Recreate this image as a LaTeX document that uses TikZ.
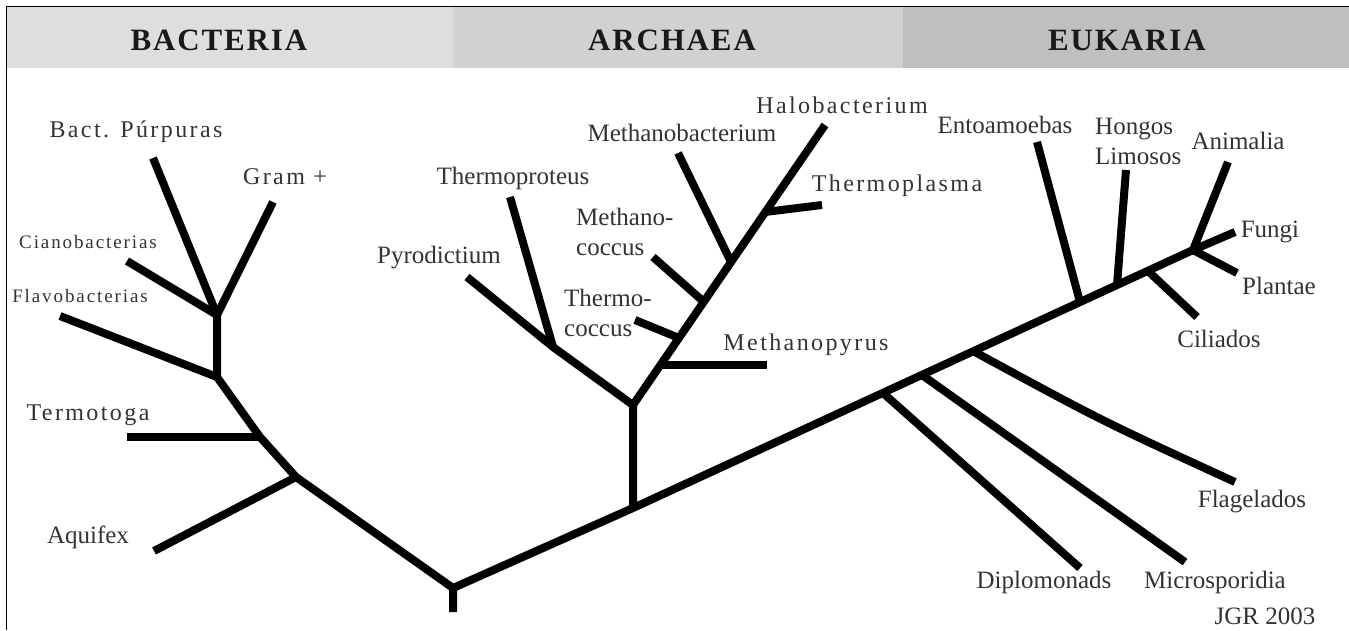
\documentclass[tikz,border=0pt]{standalone}
\usepackage{fontspec}
\setmainfont{Liberation Serif}
\newfontfamily\spacedserif{Liberation Serif}[LetterSpace=10]
\newfontfamily\headserif{Liberation Serif}[LetterSpace=6]

\begin{document}
\begin{tikzpicture}[
    x=1pt, y=-1pt,
    % Estilos de las bandas y ramas
    bactband/.style={fill=black!13},
    archband/.style={fill=black!18},
    eukband/.style={fill=black!25},
    branch/.style={line width=8pt, line cap=butt, draw=black},
    % Estilos para los textos
    domainlabel/.style={font=\headserif\bfseries\fontsize{31}{33}\selectfont, text=black!90},
    taxon/.style={font=\fontsize{25}{30}\selectfont, text=black!80, inner sep=0pt},
    spacedtaxon/.style={taxon, font=\spacedserif\fontsize{24}{30}\selectfont},
    smalltaxon/.style={taxon, font=\spacedserif\fontsize{19}{22}\selectfont}
]
\useasboundingbox (0,0) rectangle (1349,630);

% --- CABECERA ---
\fill[bactband] (6.5,6.5) rectangle (453,68);
\fill[archband] (453,6.5) rectangle (903,68);
\fill[eukband] (903,6.5) rectangle (1349,68);
\draw[line width=1.5pt] (6.5,630) -- (6.5,6.5) -- (1349,6.5);
\node[domainlabel] (bact) at (219,40) {BACTERIA};
\node[domainlabel] (arch) at (672,40) {ARCHAEA};
\node[domainlabel] (euk) at (1127,40) {EUKARIA};

% --- RAIZ ---
\coordinate (stub) at (453,612);
\coordinate (root) at (453,588);

% --- BACTERIA ---
\coordinate (aquiJ) at (296,477);
\coordinate (aquiE) at (154,551);
\coordinate (termJ) at (260,437);
\coordinate (termE) at (127,437);
\coordinate (flavJ) at (217,377);
\coordinate (flavE) at (60,316);
\coordinate (cianJ) at (217,315);
\coordinate (cianE) at (127,261);
\coordinate (purpE) at (153,158);
\coordinate (gramE) at (273,202);

\draw[branch] (stub) -- (root) -- (aquiJ) -- (termJ) -- (flavJ) -- (cianJ);
\draw[branch] (aquiJ) -- (aquiE);
\draw[branch] (termJ) -- (termE);
\draw[branch] (flavJ) -- (flavE);
\draw[branch] (cianJ) -- (cianE);
\draw[branch] (cianJ) -- (purpE);
\draw[branch] (cianJ) -- (gramE);

\node[spacedtaxon] (purp) at (136,132) {Bact. Púrpuras};
\node[spacedtaxon] (gram) at (285,177) {Gram +};
\node[smalltaxon] (cian) at (88,242) {Cianobacterias};
\node[smalltaxon] (flav) at (80,296) {Flavobacterias};
\node[spacedtaxon] (term) at (88,415) {Termotoga};
\node[taxon] (aqui) at (88,537) {Aquifex};

% --- ARCHAEA ---
\coordinate (archJ) at (633,508);
\coordinate (archK) at (633,405);
\coordinate (thprJ) at (553,347);
\coordinate (thprE) at (510,197);
\coordinate (pyroE) at (467,277);
\coordinate (haloE) at (825,125);
\coordinate (mpyrJ) at (661,365);
\coordinate (mpyrE) at (767,365);
\coordinate (tcocJ) at (679,338);
\coordinate (tcocE) at (635,320);
\coordinate (mcocJ) at (704,302);
\coordinate (mcocE) at (653,257);
\coordinate (mbacJ) at (731,262);
\coordinate (mbacE) at (678,153);
\coordinate (thplJ) at (765,212);
\coordinate (thplE) at (822,205);

\draw[branch] (archJ) -- (archK) -- (thprJ) -- (pyroE);
\draw[branch] (thprJ) -- (thprE);
\draw[branch] (archK) -- (haloE);
\draw[branch] (mpyrJ) -- (mpyrE);
\draw[branch] (tcocJ) -- (tcocE);
\draw[branch] (mcocJ) -- (mcocE);
\draw[branch] (mbacJ) -- (mbacE);
\draw[branch] (thplJ) -- (thplE);

\node[taxon] (pyro) at (439,258) {Pyrodictium};
\node[taxon] (thpr) at (513,178) {Thermoproteus};
\node[taxon] (mbac) at (682,133) {Methanobacterium};
\node[spacedtaxon] (halo) at (842,105) {Halobacterium};
\node[spacedtaxon] (thpl) at (897,186) {Thermoplasma};
\node[taxon, align=left, anchor=west] (mcoc) at (576,232) {Methano-\\coccus};
\node[taxon, align=left, anchor=west] (tcoc) at (564,313) {Thermo-\\coccus};
\node[spacedtaxon] (mpyr) at (806,345) {Methanopyrus};

% --- EUKARIA ---
\coordinate (diplJ) at (883,393);
\coordinate (diplE) at (1080,568);
\coordinate (micrJ) at (922,375);
\coordinate (micrE) at (1185,562);
\coordinate (flagJ) at (973,351);
\coordinate (flagE) at (1235,482);
\coordinate (entoJ) at (1080,302);
\coordinate (entoE) at (1037,142);
\coordinate (hongJ) at (1117,285);
\coordinate (hongE) at (1126,170);
\coordinate (ciliJ) at (1148,271);
\coordinate (ciliE) at (1197,317);
\coordinate (topJ) at (1193,250);
\coordinate (animE) at (1228,162);
\coordinate (fungE) at (1235,232);
\coordinate (planE) at (1237,273);

\draw[branch] (root) -- (archJ) -- (topJ) -- (fungE);
\draw[branch] (diplJ) -- (diplE);
\draw[branch] (micrJ) -- (micrE);
\draw[branch] (flagJ) .. controls (1102,421) .. (flagE);
\draw[branch] (entoJ) -- (entoE);
\draw[branch] (hongJ) -- (hongE);
\draw[branch] (ciliJ) -- (ciliE);
\draw[branch] (topJ) -- (animE);
\draw[branch] (topJ) -- (planE);

\node[taxon] (ento) at (1005,125) {Entoamoebas};
\node[taxon, align=left, anchor=west] (hong) at (1095,141) {Hongos\\Limosos};
\node[taxon] (anim) at (1238,141) {Animalia};
\node[taxon] (fung) at (1270,232) {Fungi};
\node[taxon] (plan) at (1279,286) {Plantae};
\node[taxon] (cili) at (1219,339) {Ciliados};
\node[taxon] (flag) at (1252,502) {Flagelados};
\node[taxon] (dipl) at (1044,582) {Diplomonads};
\node[taxon] (micr) at (1215,582) {Microsporidia};
\node[taxon] (jgr) at (1265,616) {JGR 2003};

\end{tikzpicture}
\end{document}
